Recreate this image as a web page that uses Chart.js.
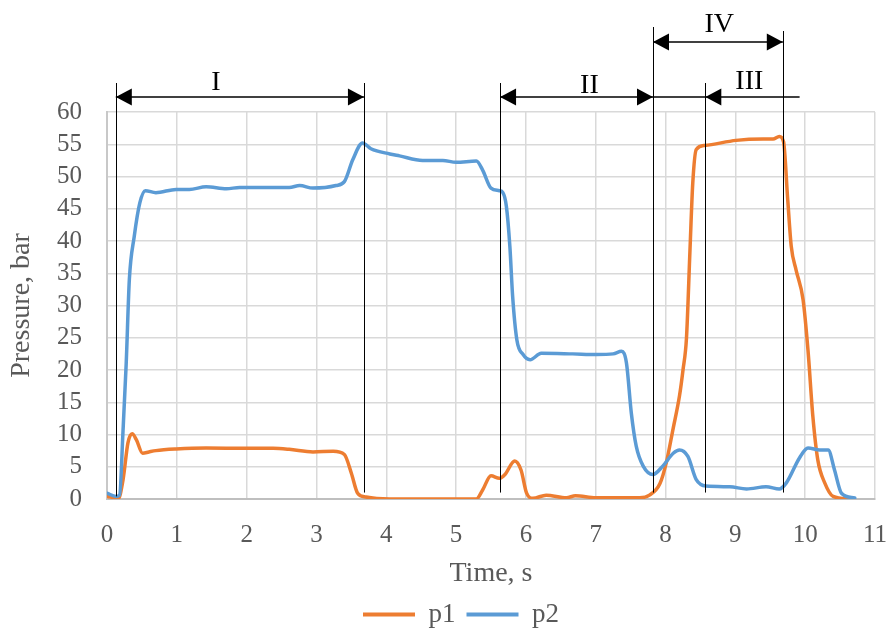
<!DOCTYPE html>
<html>
<head>
<meta charset="utf-8">
<script src="https://cdn.jsdelivr.net/npm/chart.js@4.4.1/dist/chart.umd.min.js"></script>
<style>
  html, body { margin: 0; padding: 0; background: #ffffff; }
  #wrap { width: 886px; height: 630px; }
</style>
</head>
<body>
<div id="wrap"><canvas id="chart"></canvas></div>
<script>
// Pressure readings, time in s and pressure in bar
const p1Time = [0, 0.1, 0.16, 0.23, 0.30, 0.36, 0.42, 0.51, 0.60, 0.70, 0.99, 1.42, 2.0, 2.38, 2.61, 2.95, 3.24, 3.40, 3.50, 3.59, 3.71, 4.05,
    4.76, 5.29, 5.38, 5.50, 5.62, 5.70, 5.84, 5.93, 6.01, 6.10, 6.29, 6.58, 6.71, 7.0, 7.63, 7.77, 7.92, 8.01, 8.11, 8.20, 8.25, 8.30,
    8.35, 8.39, 8.44, 8.56, 9.01, 9.40, 9.54, 9.63, 9.69, 9.75, 9.80, 9.87, 9.97, 10.04, 10.11, 10.18, 10.28, 10.40, 10.64];
const p1Values = [0.4, 0.2, 0.0, 3.0, 8.7, 10.1, 9.2, 7.1, 7.3, 7.5, 7.75, 7.9, 7.85, 7.85, 7.7, 7.3, 7.4, 6.9, 4.0, 0.9, 0.3, 0.0,
    0.0, 0.0, 1.4, 3.6, 3.2, 3.8, 5.9, 4.5, 0.9, 0.1, 0.6, 0.2, 0.5, 0.2, 0.2, 0.6, 2.4, 5.6, 11.0, 16.0, 20.0, 25.0,
    38.6, 49.0, 54.2, 54.8, 55.6, 55.8, 55.8, 56.2, 55.4, 46.4, 39.2, 35.5, 30.9, 23.1, 12.8, 6.1, 2.5, 0.4, 0.0];

const p2Time = [0, 0.13, 0.18, 0.23, 0.275, 0.32, 0.39, 0.47, 0.55, 0.70, 0.99, 1.18, 1.42, 1.71, 1.90, 2.61, 2.76, 2.95, 3.28, 3.40,
    3.52, 3.66, 3.78, 4.05, 4.19, 4.52, 4.81, 5.00, 5.29, 5.38, 5.50, 5.62, 5.67, 5.72, 5.77, 5.81, 5.87, 5.96, 6.06, 6.22, 6.67,
    7.01, 7.25, 7.37, 7.44, 7.51, 7.58, 7.68, 7.82, 7.96, 8.11, 8.20, 8.32, 8.44, 8.58, 8.92, 9.16, 9.44, 9.63, 9.73, 9.92, 10.04,
    10.21, 10.33, 10.42, 10.52, 10.71];
const p2Values = [0.9, 0.4, 0.6, 10.7, 21.0, 34.0, 40.7, 45.9, 47.8, 47.5, 48.0, 48.0, 48.4, 48.1, 48.3, 48.3, 48.6, 48.2, 48.6, 49.2,
    52.6, 55.2, 54.3, 53.5, 53.2, 52.5, 52.5, 52.2, 52.4, 51.0, 48.2, 47.8, 47.5, 45.4, 39.2, 31.4, 24.7, 22.4, 21.6, 22.6, 22.5,
    22.4, 22.5, 22.9, 21.1, 13.3, 8.2, 5.1, 3.8, 5.1, 7.1, 7.6, 6.6, 3.0, 2.0, 1.9, 1.55, 1.9, 1.55, 2.5, 6.4, 7.9,
    7.6, 7.6, 4.5, 0.9, 0.15];

// Stage boundaries (time, s) and stage names
const stageBounds = [0.126, 3.68, 5.63, 7.82, 8.57, 9.68, 9.92];
const stageNames = ['I', 'II', 'III', 'IV'];

// Build points for the line chart
function toPoints(times, values) {
    return times.map((t, i) => ({ x: t, y: values[i] }));
}

const serif = "'Liberation Serif', 'Times New Roman', serif";
const grey = '#595959';

// Where the stage marks sit; offsets are px above the plot top
const stageLayout = {
    lines: [
        { b: 0, top: -29, bottom: 0.4 },
        { b: 1, top: -29, bottom: 1 },
        { b: 2, top: -29, bottom: 1 },
        { b: 3, top: -85, bottom: 1 },
        { b: 4, top: -29, bottom: 1 },
        { b: 5, top: -81, bottom: 1 }
    ],
    arrows: [
        { name: 0, from: 0, to: 1, y: -15, heads: 'both', labelAt: 1.56, labelY: -22 },
        { name: 1, from: 2, to: 3, y: -15, heads: 'both', labelAt: 6.91, labelY: -19 },
        { name: 2, from: 3, to: 6, y: -15, heads: 'inner', headAt: 4, labelAt: 9.2, labelY: -23 },
        { name: 3, from: 3, to: 5, y: -70, heads: 'both', labelAt: 8.77, labelY: -80 }
    ]
};

function arrowHead(ctx, x, y, dir) {
    // dir = -1 points left, 1 points right
    ctx.beginPath();
    ctx.moveTo(x, y);
    ctx.lineTo(x - dir * 16, y - 8.5);
    ctx.lineTo(x - dir * 16, y + 8.5);
    ctx.closePath();
    ctx.fill();
}

const stagePlugin = {
    id: 'stages',
    // nudge the legend row a bit to the right, like the original
    afterLayout(chart) {
        if (chart.legend) {
            chart.legend.left += 47;
        }
    },
    afterDraw(chart) {
        const ctx = chart.ctx;
        const xs = chart.scales.x;
        const ys = chart.scales.y;
        const top = chart.chartArea.top;
        ctx.save();
        ctx.strokeStyle = '#000000';
        ctx.fillStyle = '#000000';

        // vertical boundary lines
        ctx.lineWidth = 1;
        stageLayout.lines.forEach(l => {
            const x = Math.round(xs.getPixelForValue(stageBounds[l.b])) + 0.5;
            ctx.beginPath();
            ctx.moveTo(x, top + l.top);
            ctx.lineTo(x, ys.getPixelForValue(l.bottom));
            ctx.stroke();
        });

        // arrows and names
        ctx.lineWidth = 1.5;
        ctx.font = '28px ' + serif;
        ctx.textAlign = 'center';
        ctx.textBaseline = 'alphabetic';
        stageLayout.arrows.forEach(a => {
            const x1 = xs.getPixelForValue(stageBounds[a.from]);
            const x2 = xs.getPixelForValue(stageBounds[a.to]);
            const y = top + a.y;
            ctx.beginPath();
            ctx.moveTo(x1, y);
            ctx.lineTo(x2, y);
            ctx.stroke();
            if (a.heads === 'both') {
                arrowHead(ctx, x1, y, -1);
                arrowHead(ctx, x2, y, 1);
            } else {
                arrowHead(ctx, xs.getPixelForValue(stageBounds[a.headAt]), y, -1);
            }
            ctx.fillText(stageNames[a.name], xs.getPixelForValue(a.labelAt), top + a.labelY);
        });
        ctx.restore();
    }
};

const ctx = document.getElementById('chart');

const pressureChart = new Chart(ctx, {
    type: 'line',
    data: {
        datasets: [
            {
                label: 'p1',
                data: toPoints(p1Time, p1Values),
                borderColor: '#ED7D31',
                backgroundColor: '#ED7D31',
                order: 1
            },
            {
                label: 'p2',
                data: toPoints(p2Time, p2Values),
                borderColor: '#5B9BD5',
                backgroundColor: '#5B9BD5',
                order: 0
            }
        ]
    },
    options: {
        responsive: true,
        maintainAspectRatio: false,
        animation: false,
        devicePixelRatio: 1,
        layout: {
            padding: { top: 112, right: 11, left: 0, bottom: -8 }
        },
        elements: {
            point: { radius: 0 },
            line: {
                borderWidth: 3.5,
                cubicInterpolationMode: 'monotone',
                borderCapStyle: 'round',
                borderJoinStyle: 'round'
            }
        },
        scales: {
            x: {
                type: 'linear',
                min: 0,
                max: 11,
                grid: { color: '#d9d9d9', lineWidth: 1.5, drawTicks: false },
                border: { color: '#bfbfbf', width: 2 },
                ticks: {
                    stepSize: 1,
                    padding: 24,
                    color: grey,
                    font: { family: serif, size: 25, lineHeight: 1 }
                },
                title: {
                    display: true,
                    text: 'Time, s',
                    color: grey,
                    padding: { top: 14, bottom: 2 },
                    font: { family: serif, size: 28, lineHeight: 1 }
                },
                // fixed band under the plot for ticks and title
                afterFit: scale => {
                    scale.height = 91;
                    scale.paddingLeft = 0;
                    scale.paddingRight = 0;
                }
            },
            y: {
                min: 0,
                max: 60,
                grid: { color: '#d9d9d9', lineWidth: 1.5, drawTicks: false },
                border: { color: '#c8c8c8', width: 2 },
                ticks: {
                    stepSize: 5,
                    padding: 25,
                    color: grey,
                    font: { family: serif, size: 25, lineHeight: 1 }
                },
                title: {
                    display: true,
                    text: 'Pressure, bar',
                    color: grey,
                    padding: { top: 8, bottom: 20 },
                    font: { family: serif, size: 28, lineHeight: 1 }
                },
                afterFit: scale => {
                    scale.width = 107;
                }
            }
        },
        plugins: {
            legend: {
                position: 'bottom',
                labels: {
                    color: grey,
                    boxWidth: 52,
                    boxHeight: 4,
                    padding: 11,
                    font: { family: serif, size: 27 },
                    sort: (a, b) => a.datasetIndex - b.datasetIndex,
                    generateLabels: chart =>
                        Chart.defaults.plugins.legend.labels.generateLabels(chart).map(l => ({
                            ...l, lineWidth: 0, fillStyle: l.strokeStyle
                        }))
                }
            },
            tooltip: { enabled: false }
        }
    },
    plugins: [stagePlugin]
});
</script>
</body>
</html>
